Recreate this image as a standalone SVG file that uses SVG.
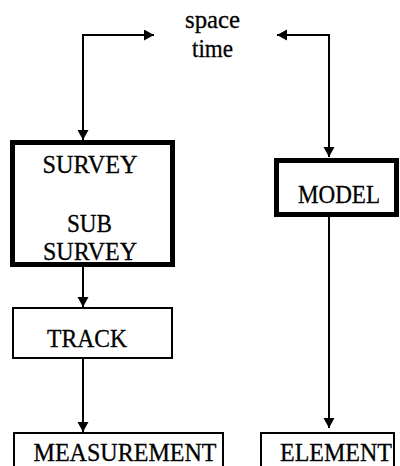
<svg xmlns="http://www.w3.org/2000/svg" width="400" height="466" viewBox="0 0 400 466">
<style>
  .t { font-size: 25px; fill: #000; stroke: #000; stroke-width: 0.3; text-anchor: middle; }
  .thick { fill: #fff; stroke: #000; stroke-width: 5; }
  .thin { fill: #fff; stroke: #000; stroke-width: 2; }
  .conn { fill: none; stroke: #000; stroke-width: 2; }
</style>
<defs>
  <marker id="ah" markerUnits="userSpaceOnUse" markerWidth="11" markerHeight="12" refX="10" refY="5.5" orient="auto-start-reverse">
    <path d="M0,0 L10,5.5 L0,11 z" fill="#000"/>
  </marker>
</defs>
<rect width="400" height="466" fill="#fff"/>
<g id="connectors">
  <path class="conn" d="M83,140 V35 H154" marker-start="url(#ah)" marker-end="url(#ah)"/>
  <path class="conn" d="M329,157 V35 H277" marker-start="url(#ah)" marker-end="url(#ah)"/>
  <path class="conn" d="M83,267 V307" marker-end="url(#ah)"/>
  <path class="conn" d="M83,359 V432" marker-end="url(#ah)"/>
  <path class="conn" d="M329,217 V428" marker-end="url(#ah)"/>
</g>
<g font-family="Liberation Serif, DejaVu Serif, serif">
<g id="spacetime">
  <text class="t" x="212.5" y="28" textLength="55" lengthAdjust="spacingAndGlyphs">space</text>
  <text class="t" x="212.5" y="57" textLength="41" lengthAdjust="spacingAndGlyphs">time</text>
</g>
<g id="survey">
  <rect class="thick" x="12.5" y="142.5" width="160" height="122"/>
  <text class="t" x="90" y="173" textLength="95" lengthAdjust="spacingAndGlyphs">SURVEY</text>
  <text class="t" x="89.5" y="232" textLength="45" lengthAdjust="spacingAndGlyphs">SUB</text>
  <text class="t" x="90" y="260" textLength="94" lengthAdjust="spacingAndGlyphs">SURVEY</text>
</g>
<g id="model">
  <rect class="thick" x="276.5" y="160.5" width="120" height="54"/>
  <text class="t" x="339" y="203" textLength="82" lengthAdjust="spacingAndGlyphs">MODEL</text>
</g>
<g id="track">
  <rect class="thin" x="13" y="308" width="159" height="50"/>
  <text class="t" x="87" y="347" textLength="80" lengthAdjust="spacingAndGlyphs">TRACK</text>
</g>
<g id="measurement">
  <rect class="thin" x="14" y="433" width="209" height="40"/>
  <text class="t" x="125" y="461" textLength="183" lengthAdjust="spacingAndGlyphs">MEASUREMENT</text>
</g>
<g id="element">
  <rect class="thin" x="261" y="433" width="133" height="40"/>
  <text class="t" x="336" y="461" textLength="112" lengthAdjust="spacingAndGlyphs">ELEMENT</text>
</g>
</g>
</svg>
